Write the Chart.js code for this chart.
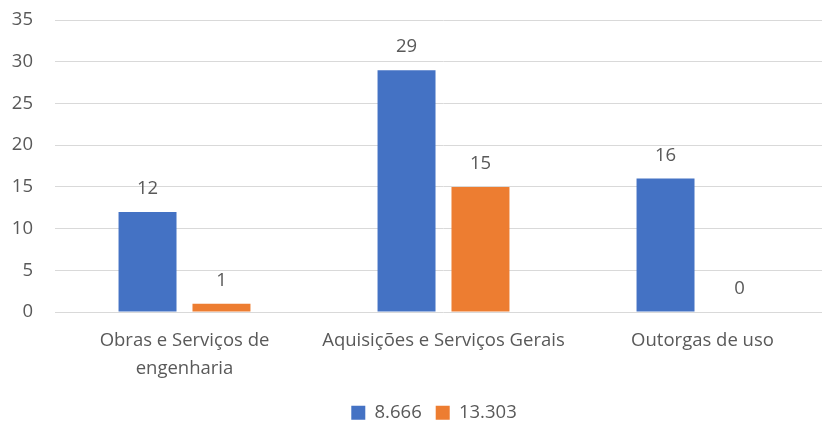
<!DOCTYPE html>
<html>
<head>
<meta charset="utf-8">
<script src="https://cdn.jsdelivr.net/npm/chart.js@4/dist/chart.umd.min.js"></script>
<style>
  html, body { margin: 0; padding: 0; background: #fff; overflow: hidden; }
  #wrap { width: 832px; height: 437px; margin-top: -13px; position: relative; }
</style>
</head>
<body>
<div id="wrap"><canvas id="chart"></canvas></div>
<script>
const categories = [['Obras e Serviços de', 'engenharia'], 'Aquisições e Serviços Gerais', 'Outorgas de uso']
const series1 = [12, 29, 16]
const series2 = [1, 15, 0]
const seriesNames = ['8.666', '13.303']

const textColor = '#595959'
const fontFamily = "'Open Sans', 'Liberation Sans', sans-serif"
const fontSize = 18.5

// draw the value above every bar
const valueLabels = {
  id: 'valueLabels',
  afterDatasetsDraw(chart) {
    const { ctx } = chart
    ctx.save()
    ctx.fillStyle = textColor
    ctx.font = fontSize + 'px ' + fontFamily
    ctx.textAlign = 'center'
    ctx.textBaseline = 'middle'
    chart.data.datasets.forEach((ds, i) => {
      chart.getDatasetMeta(i).data.forEach((bar, j) => {
        ctx.fillText(ds.data[j], bar.x, bar.y - 23)
      })
    })
    ctx.restore()
  }
}

// legend sits a bit right of the canvas centre in the original
const legendShift = {
  id: 'legendShift',
  afterLayout(chart) {
    chart.legend.left += 18
    chart.legend.right += 18
  }
}

new Chart(document.getElementById('chart'), {
  type: 'bar',
  data: {
    labels: categories,
    datasets: [{
      label: seriesNames[0],
      data: series1,
      backgroundColor: '#4472C4',
      barPercentage: 0.784,
      categoryPercentage: 0.571
    },
    {
      label: seriesNames[1],
      data: series2,
      backgroundColor: '#ED7D31',
      barPercentage: 0.784,
      categoryPercentage: 0.571
    }]
  },
  options: {
    responsive: true,
    maintainAspectRatio: false,
    animation: false,
    layout: { padding: { left: 0, top: 0, right: 0, bottom: -8 } },
    plugins: {
      legend: {
        position: 'bottom',
        labels: {
          color: textColor,
          font: { family: fontFamily, size: fontSize },
          boxWidth: 14,
          boxHeight: 14,
          padding: 14
        }
      },
      tooltip: { enabled: false }
    },
    scales: {
      x: {
        grid: { display: false },
        border: { display: false },
        ticks: {
          color: textColor,
          font: { family: fontFamily, size: fontSize, lineHeight: 1.5 },
          maxRotation: 0,
          padding: 7
        }
      },
      y: {
        min: 0,
        max: 35,
        afterFit(axis) { axis.width = 55 },
        ticks: {
          stepSize: 5,
          color: textColor,
          font: { family: fontFamily, size: fontSize },
          padding: 22
        },
        grid: { color: '#d9d9d9', drawTicks: false },
        border: { display: false }
      }
    }
  },
  plugins: [valueLabels, legendShift]
})
</script>
</body>
</html>
